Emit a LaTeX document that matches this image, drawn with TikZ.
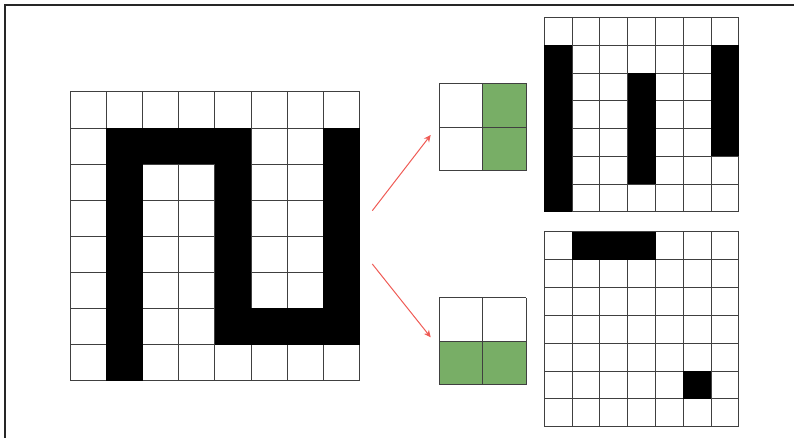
\documentclass[tikz,border=0pt]{standalone}
\usetikzlibrary{arrows.meta}
\definecolor{kgreen}{HTML}{78AE66}
\definecolor{arrowred}{HTML}{EF5B55}
\tikzset{
  gridline/.style={draw=black!75, line width=0.9pt},
  frame/.style={draw=black!85, line width=1.5pt},
  flow/.style={-{Stealth[length=7pt,width=6.5pt]}, arrowred, line width=1pt},
}

\begin{document}
\begin{tikzpicture}[x=1pt,y=1pt]
  \useasboundingbox (0,0) rectangle (794,438);
  \draw[frame] (794,433) -- (5,433) -- (5,0);

  % input image, 8x8
  \begin{scope}[shift={(70.3,57.3)}, x=36.15pt, y=36.1pt]
    \foreach \i in {0,...,8}{\draw[gridline] (\i,0) -- (\i,8) (0,\i) -- (8,\i);}
    \foreach \c/\r in {1/1,2/1,3/1,4/1,7/1, 1/2,4/2,7/2, 1/3,4/3,7/3,
                       1/4,4/4,7/4, 1/5,4/5,7/5, 1/6,4/6,5/6,6/6,7/6, 1/7}{
      \fill[black] (\c,7-\r) rectangle ++(1,1);
    }
  \end{scope}
  \coordinate (img-up) at (372.3,227.3);
  \coordinate (img-dn) at (372.3,174);

  % kernels (right column green / bottom row green)
  \begin{scope}[shift={(439,267.3)}, x=43.5pt, y=43.7pt]
    \fill[kgreen] (1,0) rectangle (2,2);
    \foreach \i in {0,1,2}{\draw[gridline] (\i,0) -- (\i,2) (0,\i) -- (2,\i);}
  \end{scope}
  \coordinate (k1-in) at (430.7,303);

  \begin{scope}[shift={(439,53.3)}, x=43.5pt, y=43.5pt]
    \fill[kgreen] (0,0) rectangle (2,1);
    \foreach \i in {0,1,2}{\draw[gridline] (\i,0) -- (\i,2) (0,\i) -- (2,\i);}
  \end{scope}
  \coordinate (k2-in) at (430.7,100.7);

  \draw[flow] (img-up) -- (k1-in);
  \draw[flow] (img-dn) -- (k2-in);

  % feature maps, 7x7
  \begin{scope}[shift={(544.3,226.3)}, x=27.8pt, y=27.7pt]
    \foreach \i in {0,...,7}{\draw[gridline] (\i,0) -- (\i,7) (0,\i) -- (7,\i);}
    \fill[black] (0,0) rectangle (1,6);
    \fill[black] (3,1) rectangle (4,5);
    \fill[black] (6,2) rectangle (7,6);
  \end{scope}

  \begin{scope}[shift={(544.3,11.3)}, x=27.8pt, y=27.85pt]
    \foreach \i in {0,...,7}{\draw[gridline] (\i,0) -- (\i,7) (0,\i) -- (7,\i);}
    \fill[black] (1,6) rectangle (4,7);
    \fill[black] (5,1) rectangle (6,2);
  \end{scope}
\end{tikzpicture}
\end{document}
